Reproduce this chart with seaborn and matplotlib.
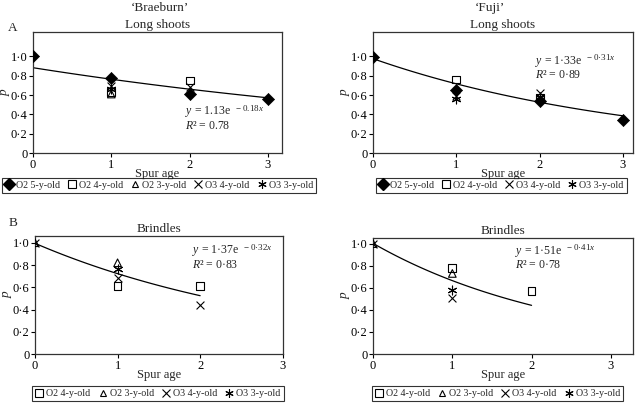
import numpy as np
import pandas as pd
import matplotlib
matplotlib.use("Agg")
import matplotlib.pyplot as plt
from matplotlib.lines import Line2D
import seaborn as sns

sns.set_theme(style="white")
plt.rcParams['font.family'] = ['Liberation Serif', 'DejaVu Serif']
plt.rcParams['mathtext.fontset'] = 'custom'
plt.rcParams['mathtext.rm'] = 'Liberation Serif'
plt.rcParams['mathtext.it'] = 'Liberation Serif:italic'

# ---------------- data ----------------
# Braeburn long shoots
bl_o2_5_x = [0, 1, 2, 3];  bl_o2_5_y = [1.00, 0.78, 0.61, 0.56]
bl_o2_4_x = [1, 2];        bl_o2_4_y = [0.63, 0.75]
bl_o2_3_x = [1];           bl_o2_3_y = [0.61]
bl_o3_4_x = [1, 2];        bl_o3_4_y = [0.69, 0.68]
bl_o3_3_x = [1];           bl_o3_3_y = [0.66]
# Fuji long shoots
fl_o2_5_x = [0, 1, 2, 3];  fl_o2_5_y = [0.99, 0.65, 0.54, 0.34]
fl_o2_4_x = [1, 2];        fl_o2_4_y = [0.76, 0.57]
fl_o3_4_x = [1, 2];        fl_o3_4_y = [0.59, 0.62]
fl_o3_3_x = [1, 2];        fl_o3_3_y = [0.56, 0.58]
# Braeburn brindles
bb_o2_4_x = [1, 2];        bb_o2_4_y = [0.61, 0.61]
bb_o2_3_x = [0, 1];        bb_o2_3_y = [1.00, 0.82]
bb_o3_4_x = [0, 1, 2];     bb_o3_4_y = [1.00, 0.68, 0.44]
bb_o3_3_x = [1];           bb_o3_3_y = [0.76]
# Fuji brindles
fb_o2_4_x = [1, 2];        fb_o2_4_y = [0.78, 0.57]
fb_o2_3_x = [0, 1];        fb_o2_3_y = [1.00, 0.73]
fb_o3_4_x = [0, 1];        fb_o3_4_y = [1.00, 0.51]
fb_o3_3_x = [1];           fb_o3_3_y = [0.58]

# trendline parameters (y = a*exp(-b*(age+1))) as drawn
trend_bl = (1.02, 0.145, 3)
trend_fl = (1.33, 0.31, 3)
trend_bb = (1.37, 0.32, 2)
trend_fb = (1.51, 0.41, 2)

# equation labels: (main part, exponent, R² line)
eq_labels = {
    'bl': (r"$\it{y}$ = 1.13e", r"$-$ 0.18$\it{x}$", r"$\it{R}$² = 0.78"),
    'fl': (r"$\it{y}$ = 1·33e", r"$-$ 0·31$\it{x}$", r"$\it{R}$² = 0·89"),
    'bb': (r"$\it{y}$ = 1·37e", r"$-$ 0·32$\it{x}$", r"$\it{R}$² = 0·83"),
    'fb': (r"$\it{y}$ = 1·51e", r"$-$ 0·41$\it{x}$", r"$\it{R}$² = 0·78"),
}

names = {'o2_5': 'O2 5-y-old', 'o2_4': 'O2 4-y-old', 'o2_3': 'O2 3-y-old',
         'o3_4': 'O3 4-y-old', 'o3_3': 'O3 3-y-old'}
ASTER = (6, 2, 0)
styles = {
    'o2_5': dict(marker='D', s=38, color='black', edgecolor='black'),
    'o2_4': dict(marker='s', s=32, facecolor='none', edgecolor='black', linewidth=0.8),
    'o2_3': dict(marker='^', s=30, facecolor='none', edgecolor='black', linewidth=0.8),
    'o3_4': dict(marker='x', s=32, color='black', linewidth=0.8),
    'o3_3': dict(marker=ASTER, s=40, color='black', linewidth=0.8),
}
leg_styles = {
    'o2_5': dict(marker='D', markersize=6, color='black', mfc='black', mec='black'),
    'o2_4': dict(marker='s', markersize=6, mfc='none', mec='black', mew=0.8),
    'o2_3': dict(marker='^', markersize=5, mfc='none', mec='black', mew=0.8),
    'o3_4': dict(marker='x', markersize=6, color='black', mew=0.8),
    'o3_3': dict(marker=ASTER, markersize=6, color='black', mew=0.8),
}

panels = [
    dict(key='bl', rect=[0.0516, 0.624, 0.389, 0.297], xlim=3.18, ylim=1.25, trend=trend_bl,
         series={'o2_5': (bl_o2_5_x, bl_o2_5_y), 'o2_4': (bl_o2_4_x, bl_o2_4_y),
                 'o2_3': (bl_o2_3_x, bl_o2_3_y), 'o3_4': (bl_o3_4_x, bl_o3_4_y),
                 'o3_3': (bl_o3_3_x, bl_o3_3_y)},
         title='Long shoots', eq_x=1.94, eq_y=(0.40, 0.25), leg=(0.248, 0.545)),
    dict(key='fl', rect=[0.583, 0.624, 0.406, 0.297], xlim=3.12, ylim=1.25, trend=trend_fl,
         series={'o2_5': (fl_o2_5_x, fl_o2_5_y), 'o2_4': (fl_o2_4_x, fl_o2_4_y),
                 'o3_4': (fl_o3_4_x, fl_o3_4_y), 'o3_3': (fl_o3_3_x, fl_o3_3_y)},
         title='Long shoots', eq_x=1.94, eq_y=(0.925, 0.775), leg=(0.783, 0.545)),
    dict(key='bb', rect=[0.0547, 0.130, 0.387, 0.290], xlim=3.0, ylim=1.06, trend=trend_bb,
         series={'o2_4': (bb_o2_4_x, bb_o2_4_y), 'o2_3': (bb_o2_3_x, bb_o2_3_y),
                 'o3_4': (bb_o3_4_x, bb_o3_4_y), 'o3_3': (bb_o3_3_x, bb_o3_3_y)},
         title='Brindles', eq_x=1.90, eq_y=(0.905, 0.775), leg=(0.247, 0.032)),
    dict(key='fb', rect=[0.583, 0.130, 0.406, 0.285], xlim=3.28, ylim=1.05, trend=trend_fb,
         series={'o2_4': (fb_o2_4_x, fb_o2_4_y), 'o2_3': (fb_o2_3_x, fb_o2_3_y),
                 'o3_4': (fb_o3_4_x, fb_o3_4_y), 'o3_3': (fb_o3_3_x, fb_o3_3_y)},
         title='Brindles', eq_x=1.79, eq_y=(0.91, 0.78), leg=(0.777, 0.032)),
]

fig = plt.figure(figsize=(6.4, 4.07), dpi=100)

for p in panels:
    ax = fig.add_axes(p['rect'])
    a, b, xmax = p['trend']
    xs = np.linspace(0, xmax, 100)
    sns.lineplot(x=xs, y=a * np.exp(-b * (xs + 1)), ax=ax, color='black', linewidth=0.9)
    for k, (sx, sy) in p['series'].items():
        df = pd.DataFrame({'x': sx, 'y': sy})
        sns.scatterplot(data=df, x='x', y='y', ax=ax, zorder=3, **styles[k])
    ax.set_xlim(0, p['xlim'])
    ax.set_ylim(0, p['ylim'])
    ax.set_xticks([0, 1, 2, 3])
    ax.set_xticklabels(['0', '1', '2', '3'])
    ax.set_yticks([0, 0.2, 0.4, 0.6, 0.8, 1.0])
    ax.set_yticklabels(['0', '0·2', '0·4', '0·6', '0·8', '1·0'])
    ax.tick_params(axis='both', direction='out', length=3, width=0.8, labelsize=9,
                   pad=1, colors='black', bottom=True, left=True)
    for sp in ax.spines.values():
        sp.set_color('#333333')
        sp.set_linewidth(0.9)
    ax.set_xlabel('Spur age', fontsize=9, labelpad=-2)
    ax.set_ylabel('p', fontsize=9.5, style='italic', labelpad=0)
    ax.set_title(p['title'], fontsize=9.5, pad=3)
    main, expo, r2 = eq_labels[p['key']]
    t = ax.text(p['eq_x'], p['eq_y'][0], main, fontsize=8.5, va='baseline')
    ax.annotate(expo, xy=(1, 0.45), xycoords=t, xytext=(3, 0), textcoords='offset points',
                fontsize=6.5, va='bottom', ha='left')
    ax.text(p['eq_x'], p['eq_y'][1], r2, fontsize=8.5, va='baseline')
    handles = [Line2D([], [], linestyle='none', **leg_styles[k]) for k in p['series']]
    labels = [names[k] for k in p['series']]
    leg = ax.legend(handles, labels, loc='center', bbox_to_anchor=p['leg'],
                    bbox_transform=fig.transFigure, ncol=len(handles), fontsize=7.2,
                    frameon=True, fancybox=False, edgecolor='black', handlelength=0.8,
                    handletextpad=0.3, columnspacing=0.8, borderpad=0.3, borderaxespad=0)
    leg.get_frame().set_linewidth(0.8)

fig.text(0.25, 0.981, "‘Braeburn’", ha='center', va='center', fontsize=9.5)
fig.text(0.765, 0.981, "‘Fuji’", ha='center', va='center', fontsize=9.5)
fig.text(0.020, 0.931, "A", ha='center', va='center', fontsize=9.5)
fig.text(0.020, 0.452, "B", ha='center', va='center', fontsize=9.5)

fig.savefig('out.png', dpi=100)
